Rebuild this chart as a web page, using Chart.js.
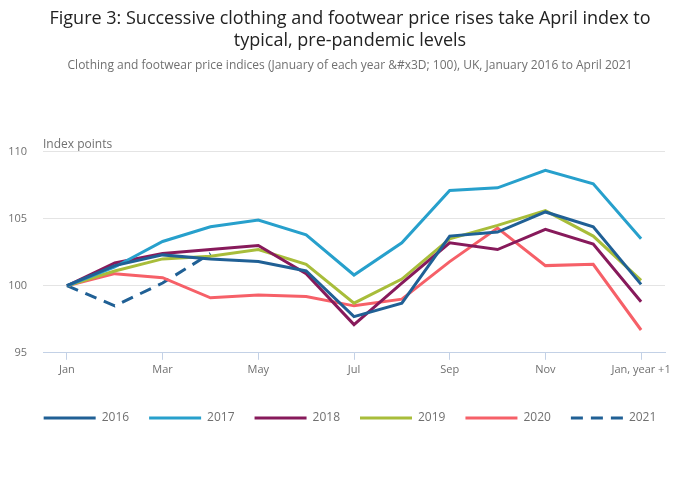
<!DOCTYPE html>
<html>
<head>
<meta charset="utf-8">
<script src="https://cdn.jsdelivr.net/npm/chart.js@4"></script>
<style>
	html, body { margin: 0; padding: 0; background: #fff; }
	#wrap { width: 700px; height: 502px; }
</style>
</head>
<body>
<div id="wrap"><canvas id="priceChart"></canvas></div>
<script>
const months = ['Jan', 'Feb', 'Mar', 'Apr', 'May', 'Jun', 'Jul', 'Aug', 'Sep', 'Oct', 'Nov', 'Dec', 'Jan, year +1'];

const values2016 = [100, 101.5, 102.3, 102.0, 101.8, 101.1, 97.7, 98.7, 103.7, 104.0, 105.5, 104.4, 100.1];
const values2017 = [100, 101.4, 103.3, 104.4, 104.9, 103.8, 100.8, 103.2, 107.1, 107.3, 108.6, 107.6, 103.5];
const values2018 = [100, 101.7, 102.4, 102.7, 103.0, 100.9, 97.1, 100.2, 103.2, 102.7, 104.2, 103.1, 98.8];
const values2019 = [100, 101.1, 102.0, 102.2, 102.7, 101.6, 98.7, 100.5, 103.5, 104.5, 105.6, 103.7, 100.4];
const values2020 = [100, 100.9, 100.6, 99.1, 99.3, 99.2, 98.5, 99.0, 101.8, 104.3, 101.5, 101.6, 96.7];
const values2021 = [100, 98.5, 100.2, 102.4];

const yTicks = [95, 100, 105, 110];

function renderChart() {
	const ctx = document.getElementById('priceChart').getContext('2d');

	const line = (label, data, color, dash) => ({
		label: label,
		data: data,
		borderColor: color,
		backgroundColor: color,
		borderWidth: 3,
		borderDash: dash || [],
		pointRadius: 0,
		pointHoverRadius: 0,
		pointStyle: 'line',
		tension: 0,
		fill: false,
	});

	// "Index points" label sits above the plot, left aligned with it
	const unitLabel = {
		id: 'unitLabel',
		afterDraw(chart) {
			const c = chart.ctx;
			c.save();
			c.font = '12px "Open Sans"';
			c.fillStyle = '#707070';
			c.textBaseline = 'bottom';
			c.textAlign = 'left';
			c.fillText('Index points', chart.chartArea.left, chart.chartArea.top - 1);
			c.restore();
		}
	};

	// centre title, subtitle and legend on the whole canvas, not on the padded area
	const fullWidthBoxes = {
		id: 'fullWidthBoxes',
		afterLayout(chart) {
			chart.boxes.forEach(box => {
				if (box.fullSize && (box.position === 'top' || box.position === 'bottom')) {
					box.left = 0;
					box.right = chart.width;
					box.width = chart.width;
				}
			});
		}
	};

	new Chart(ctx, {
		type: 'line',
		data: {
			labels: months,
			datasets: [
				line('2016', values2016, '#206095'),
				line('2017', values2017, '#27a0cc'),
				line('2018', values2018, '#871a5b'),
				line('2019', values2019, '#a8bd3a'),
				line('2020', values2020, '#f66068'),
				line('2021', values2021, '#206095', [12, 8]),
			]
		},
		options: {
			responsive: true,
			maintainAspectRatio: false,
			animation: false,
			layout: {
				padding: { left: 7, right: 35, top: 8, bottom: 68 }
			},
			plugins: {
				tooltip: { enabled: false },
				title: {
					display: true,
					text: ['Figure 3: Successive clothing and footwear price rises take April index to', 'typical, pre-pandemic levels'],
					color: '#222222',
					font: { family: 'Open Sans', size: 18, weight: 'normal', lineHeight: 1.2 },
					padding: { top: 0, bottom: 7 }
				},
				subtitle: {
					display: true,
					text: 'Clothing and footwear price indices (January of each year &#x3D; 100), UK, January 2016 to April 2021',
					color: '#707070',
					font: { family: 'Open Sans', size: 12 },
					padding: { top: 0, bottom: 79 }
				},
				legend: {
					position: 'bottom',
					labels: {
						usePointStyle: true,
						pointStyleWidth: 52,
						boxHeight: 12,
						padding: 20,
						color: '#707070',
						font: { family: 'Open Sans', size: 12 },
						generateLabels: chart => {
							const items = Chart.defaults.plugins.legend.labels.generateLabels(chart);
							items.forEach(item => {
								const ds = chart.data.datasets[item.datasetIndex];
								item.lineDash = ds.borderDash;
								item.lineWidth = 3;
								item.strokeStyle = ds.borderColor;
							});
							return items;
						}
					}
				}
			},
			scales: {
				x: {
					offset: true,
					afterFit: axis => { axis.height += 13; },
					grid: {
						drawOnChartArea: false,
						drawTicks: true,
						tickLength: 7,
						color: '#c3d1e6',
						offset: false
					},
					border: { color: '#c3d1e6' },
					ticks: {
						autoSkip: false,
						maxRotation: 0,
						padding: 3,
						color: '#707070',
						font: { family: 'Open Sans', size: 11 },
						callback: function (value, index) {
							return index % 2 === 0 ? months[index] : null;
						}
					}
				},
				y: {
					min: 95,
					max: 110,
					afterBuildTicks: axis => {
						axis.ticks = yTicks.map(v => ({ value: v }));
					},
					afterFit: axis => { axis.width = 36; },
					grid: {
						color: '#e4e4e4',
						drawTicks: false
					},
					border: { display: false },
					ticks: {
						padding: 16,
						color: '#707070',
						font: { family: 'Open Sans', size: 11 }
					}
				}
			}
		},
		plugins: [unitLabel, fullWidthBoxes]
	});
}

renderChart();
</script>
</body>
</html>
